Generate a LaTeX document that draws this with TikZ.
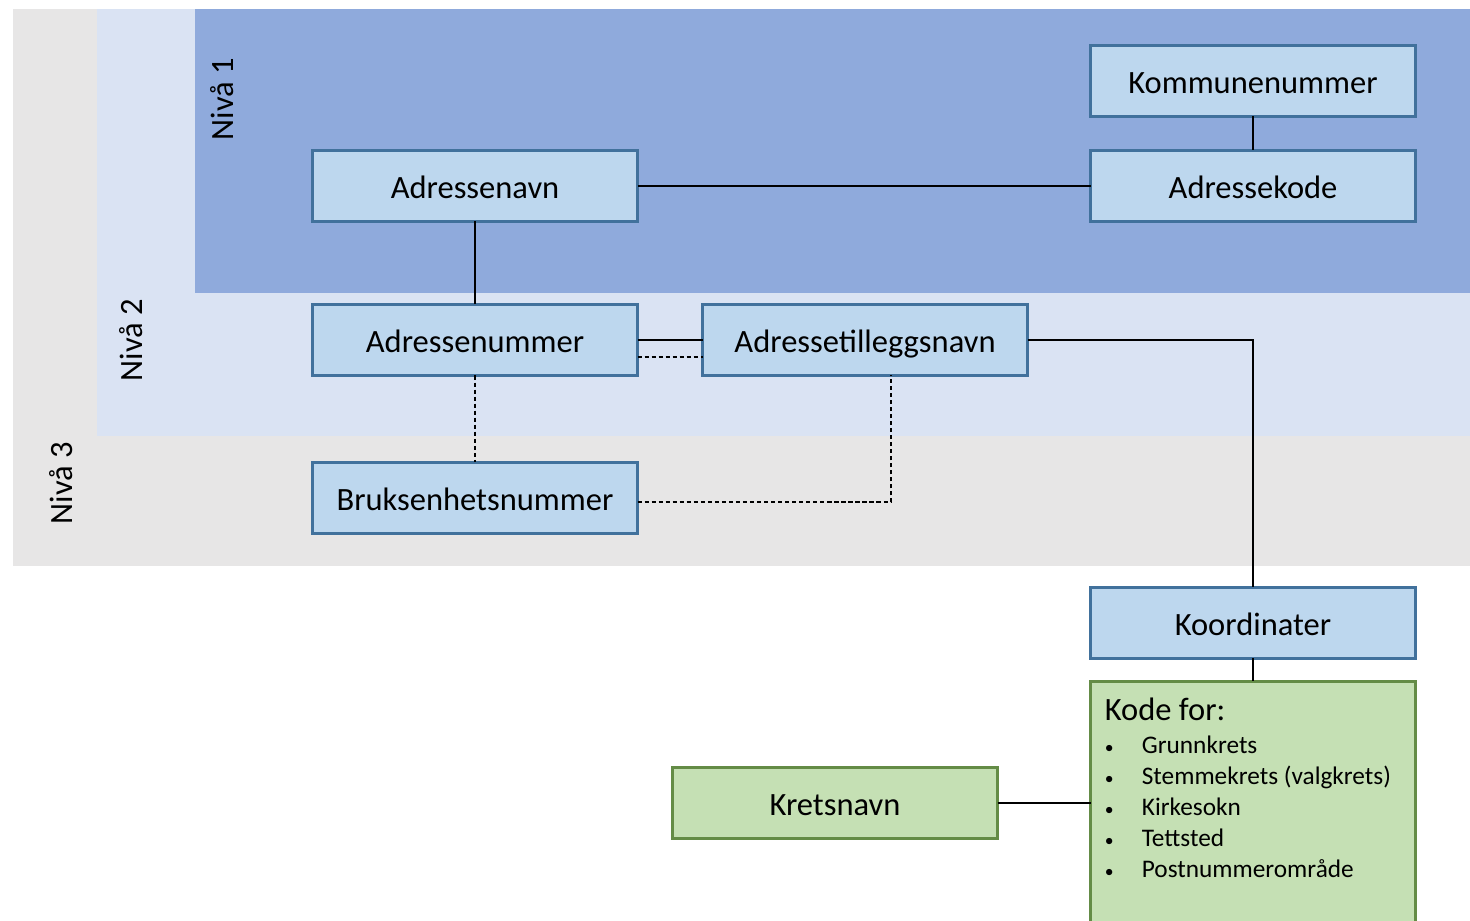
\documentclass[tikz,border=0pt]{standalone}
\usepackage{fontspec}
\setmainfont{Carlito}
\usepackage{xcolor}
\definecolor{nivaGray}{HTML}{E7E6E6}
\definecolor{nivaLight}{HTML}{DAE3F3}
\definecolor{nivaBlue}{HTML}{8FAADC}
\definecolor{fieldFill}{HTML}{BDD7EE}
\definecolor{fieldBorder}{HTML}{41719C}
\definecolor{codeFill}{HTML}{C5E0B4}
\definecolor{codeBorder}{RGB}{100,140,70}
\usetikzlibrary{positioning}
\newcommand{\kodepunkt}[1]{\makebox[0.74cm][l]{\scalebox{0.7}{\textbullet}}#1}

\begin{document}
\begin{tikzpicture}[
  field/.style={draw=fieldBorder, line width=1.2pt, fill=fieldFill,
                minimum width=6.5cm, minimum height=1.42cm, inner sep=0pt,
                outer sep=0pt, text height=13.7pt, text depth=0pt,
                font=\fontsize{18.5}{22}\selectfont},
  codefield/.style={field, draw=codeBorder, fill=codeFill},
  link/.style={line width=1.1pt},
  weaklink/.style={line width=0.65pt, dash pattern=on 2.4pt off 1.6pt},
  level/.style={rotate=90, font=\fontsize{18.5}{22}\selectfont}
]
  \useasboundingbox (0,0) rectangle (29.4,18.42);
  \clip (0,0) rectangle (29.4,18.42);
  \fill[nivaGray]  (0.26,7.10) rectangle (29.4,18.24);
  \fill[nivaLight] (1.94,9.70) rectangle (29.4,18.24);
  \fill[nivaBlue]  (3.90,12.56) rectangle (29.4,18.24);

  \node[level] (niva1) at (4.44,16.44) {Nivå 1};
  \node[level] (niva2) at (2.62,11.62) {Nivå 2};
  \node[level] (niva3) at (1.22,8.76)  {Nivå 3};

  \node[field]                          (navn)    at (9.5,14.7) {Adressenavn};
  \node[field, right=9.06cm of navn]    (kode)    {Adressekode};
  \node[field, above=0.68cm of kode]    (kommune) {Kommunenummer};
  \node[field, below=1.66cm of navn]    (nummer)  {Adressenummer};
  \node[field, right=1.3cm of nummer]   (tillegg) {Adressetilleggsnavn};
  \node[field, below=1.74cm of nummer]  (bruks)   {Bruksenhetsnummer};
  \node[field, below=7.32cm of kode]    (koord)   {Koordinater};
  \node[codefield, minimum height=5.4cm, below=0.46cm of koord] (koder) {};
  \node[codefield]                      (krets)   at (16.7,2.36) {Kretsnavn};
  \node[anchor=north west, align=left, inner sep=0pt,
        font=\fontsize{14.4}{17.6}\selectfont] (kodertekst)
        at ([xshift=0.28cm,yshift=-0.32cm]koder.north west)
        {{\fontsize{18.5}{22}\selectfont Kode for:}\\[0.04cm]
         \kodepunkt{Grunnkrets}\\
         \kodepunkt{Stemmekrets (valgkrets)}\\
         \kodepunkt{Kirkesokn}\\
         \kodepunkt{Tettsted}\\
         \kodepunkt{Postnummerområde}};

  \draw[link] (navn.south) -- (nummer.north);
  \draw[link] (navn.east) -- (kode.west);
  \draw[link] (kommune.south) -- (kode.north);
  \draw[link] (nummer.east) -- (tillegg.west);
  \draw[weaklink] ([yshift=-0.34cm]nummer.east) -- ([yshift=-0.34cm]tillegg.west);
  \draw[weaklink] (nummer.south) -- (bruks.north);
  \draw[weaklink] ([yshift=-0.08cm]bruks.east) -| ([xshift=0.52cm]tillegg.south);
  \draw[link] (tillegg.east) -| (koord.north);
  \draw[link] (koord.south) -- (koder.north);
  \draw[link] (krets.east) -- (krets.east -| koder.west);
\end{tikzpicture}
\end{document}
